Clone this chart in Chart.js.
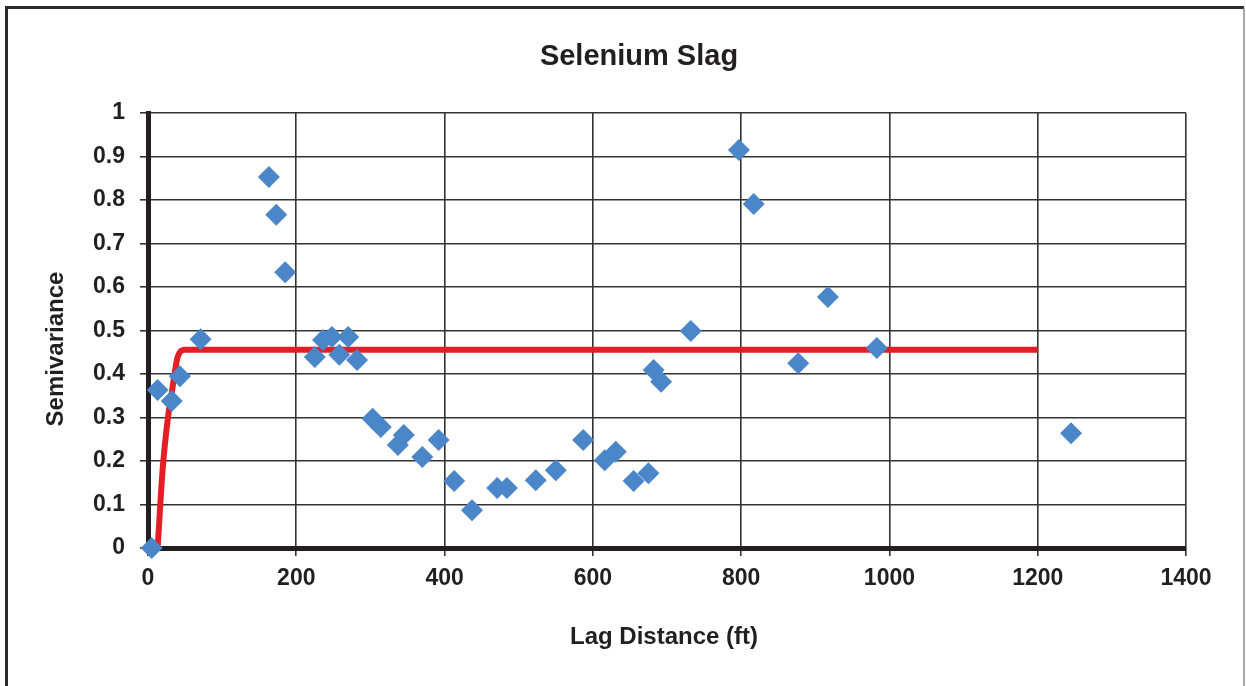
<!DOCTYPE html>
<html>
<head>
<meta charset="utf-8">
<title>Selenium Slag</title>
<script src="https://cdn.jsdelivr.net/npm/chart.js@4/dist/chart.umd.min.js"></script>
<style>
    html, body { margin: 0; padding: 0; background: #fff; }
    #wrap { position: relative; width: 1246px; height: 686px; }
</style>
</head>
<body>
<div id="wrap"><canvas id="variogram" width="1246" height="686"></canvas></div>
<script>
const lagDistance = [5, 13, 32, 43, 71, 163, 173, 185, 225, 236, 248, 258, 270, 282, 303, 314, 345, 337, 370, 392,
    413, 437, 471, 484, 523, 550, 587, 616, 631, 655, 675, 682, 692, 732, 797, 817, 877, 917, 983, 1245];
const semivariance = [0, 0.363, 0.338, 0.395, 0.48, 0.853, 0.766, 0.634, 0.439, 0.478, 0.485, 0.444, 0.485, 0.432, 0.297, 0.278, 0.26, 0.237, 0.209, 0.248,
    0.154, 0.087, 0.138, 0.138, 0.156, 0.179, 0.248, 0.202, 0.221, 0.154, 0.172, 0.409, 0.382, 0.499, 0.915, 0.791, 0.425, 0.577, 0.46, 0.264];

// Fitted model curve (red)
const modelLag = [13, 20, 27, 32, 36, 40, 50, 1200];
const modelValue = [0, 0.186, 0.301, 0.356, 0.402, 0.439, 0.456, 0.456];

const xTickLabels = ['0', '200', '400', '600', '800', '1000', '1200', '1400'];
const yTickLabels = ['0', '0.1', '0.2', '0.3', '0.4', '0.5', '0.6', '0.7', '0.8', '0.9', '1'];

const ink = '#231f20';
const fontFamily = "'Liberation Sans', Arial, Helvetica, sans-serif";

// Frame and titles drawn straight onto the canvas
const frameAndTitles = {
    id: 'frameAndTitles',
    beforeDraw(chart) {
        const ctx = chart.ctx;
        ctx.save();
        ctx.fillStyle = '#fff';
        ctx.fillRect(0, 0, chart.width, chart.height);
        ctx.strokeStyle = '#2b2b2b';
        ctx.lineWidth = 3;
        ctx.beginPath();
        ctx.moveTo(6.5, chart.height);
        ctx.lineTo(6.5, 7.5);
        ctx.lineTo(1244, 7.5);
        ctx.stroke();
        ctx.strokeStyle = '#8a8a8a';
        ctx.lineWidth = 1.5;
        ctx.beginPath();
        ctx.moveTo(1244, 7.5);
        ctx.lineTo(1244, chart.height);
        ctx.stroke();
        ctx.restore();
    },
    afterDraw(chart) {
        const ctx = chart.ctx;
        ctx.save();
        ctx.fillStyle = ink;
        ctx.textAlign = 'center';
        ctx.textBaseline = 'middle';
        ctx.font = 'bold 29px ' + fontFamily;
        ctx.fillText('Selenium Slag', 639, 57);
        ctx.font = 'bold 24px ' + fontFamily;
        ctx.fillText('Lag Distance (ft)', 664, 637);
        ctx.translate(56, 349);
        ctx.rotate(-Math.PI / 2);
        ctx.fillText('Semivariance', 0, 0);
        ctx.restore();
    }
};

const ctx = document.getElementById('variogram').getContext('2d');
const chart = new Chart(ctx, {
    type: 'scatter',
    data: {
        datasets: [{
            label: 'Semivariance',
            data: lagDistance.map((x, i) => ({ x: x, y: semivariance[i] })),
            pointStyle: 'rectRot',
            pointRadius: 11,
            pointHoverRadius: 11,
            backgroundColor: '#4a86c8',
            borderColor: '#4a86c8',
            borderWidth: 0,
            clip: false
        }, {
            label: 'Model',
            type: 'line',
            data: modelLag.map((x, i) => ({ x: x, y: modelValue[i] })),
            borderColor: '#e31e24',
            borderWidth: 6,
            pointRadius: 0,
            cubicInterpolationMode: 'monotone',
            fill: false
        }]
    },
    options: {
        responsive: false,
        animation: false,
        layout: {
            padding: { left: 0, top: 113, right: 60, bottom: 0 }
        },
        plugins: {
            legend: { display: false },
            title: { display: false },
            tooltip: { enabled: false }
        },
        scales: {
            x: {
                type: 'linear',
                min: 0,
                max: 1400,
                afterFit: (scale) => { scale.height = 138; },
                afterBuildTicks: (scale) => {
                    scale.ticks = xTickLabels.map(t => ({ value: Number(t) }));
                },
                ticks: {
                    callback: (value, index) => xTickLabels[index],
                    color: ink,
                    padding: 9,
                    maxRotation: 0,
                    font: { family: fontFamily, size: 23, weight: 'bold' }
                },
                grid: { color: '#333', lineWidth: 1.6, tickLength: 8 },
                border: { color: ink, width: 5 }
            },
            y: {
                type: 'linear',
                min: 0,
                max: 1,
                afterFit: (scale) => { scale.width = 148; },
                afterBuildTicks: (scale) => {
                    scale.ticks = yTickLabels.map(t => ({ value: Number(t) }));
                },
                ticks: {
                    callback: (value, index) => yTickLabels[index],
                    color: ink,
                    padding: 15,
                    font: { family: fontFamily, size: 23, weight: 'bold' }
                },
                grid: { color: '#333', lineWidth: 1.6, tickLength: 8 },
                border: { color: ink, width: 5 }
            }
        }
    },
    plugins: [frameAndTitles]
});
</script>
</body>
</html>
